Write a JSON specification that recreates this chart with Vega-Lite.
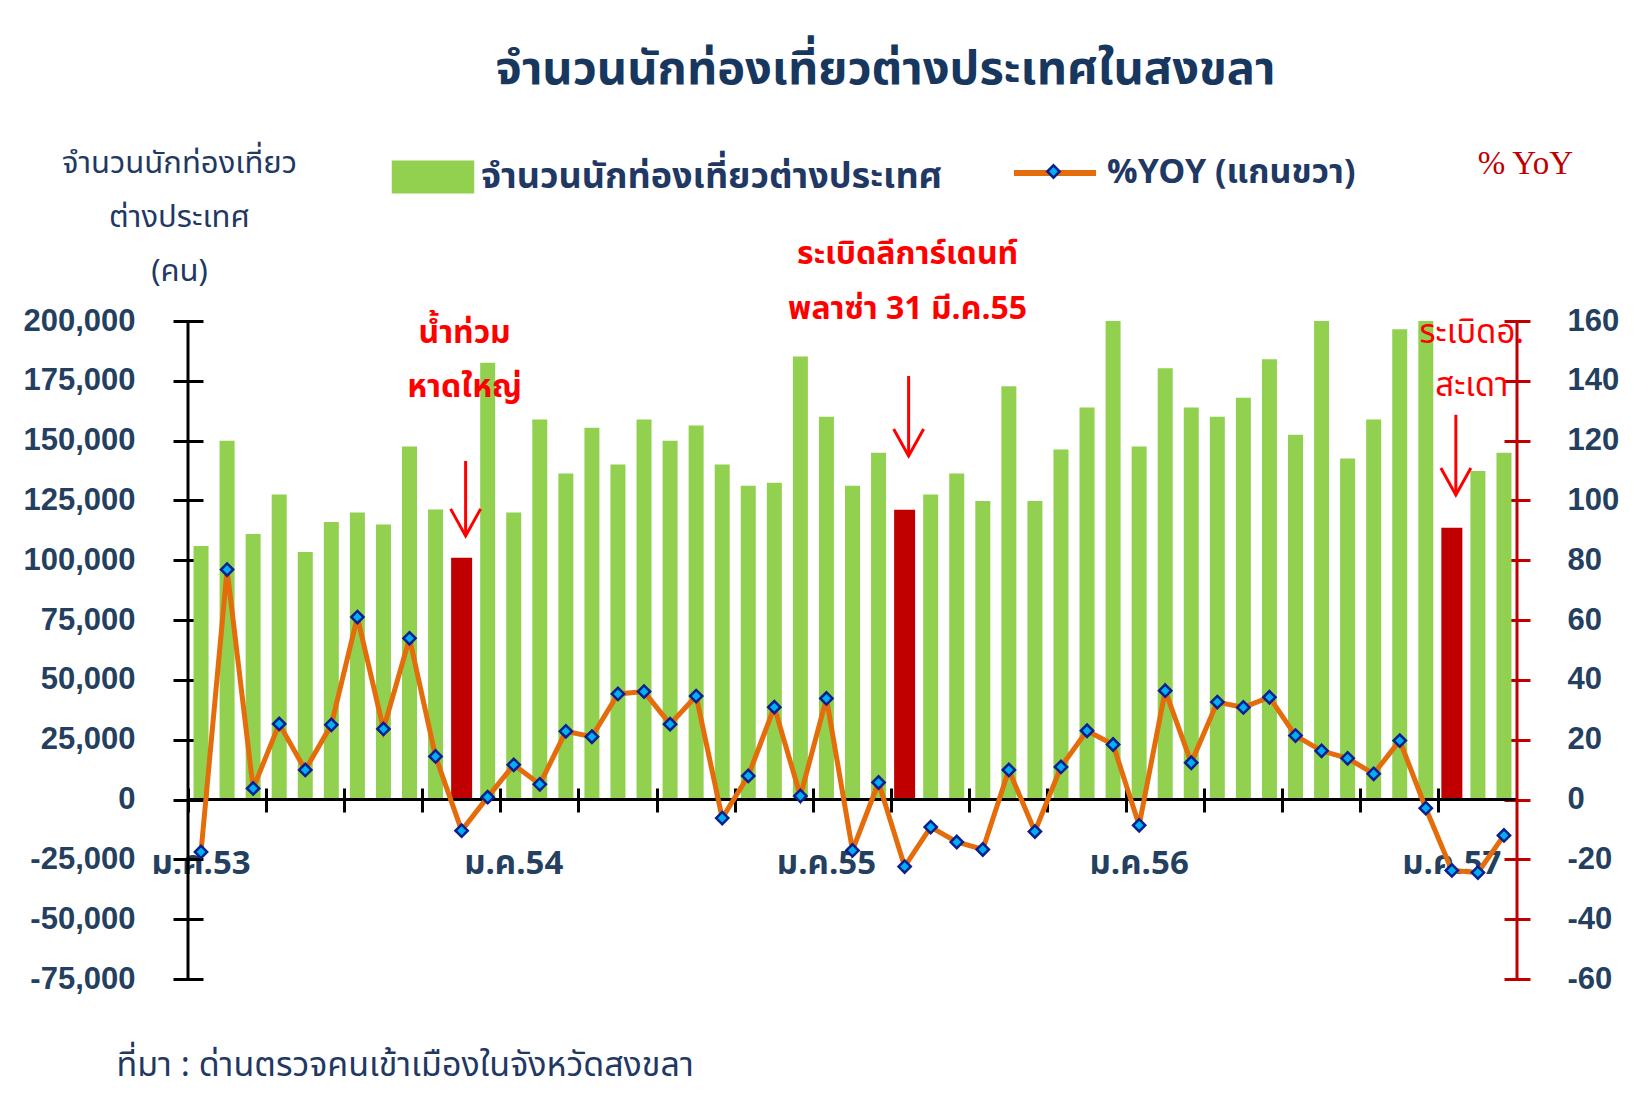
{
 "$schema": "https://vega.github.io/schema/vega-lite/v6.json",
 "width": 1329,
 "height": 658,
 "autosize": {"type": "none"},
 "padding": {"left": 188, "top": 321, "right": 131, "bottom": 137},
 "background": "#ffffff",
 "config": {
  "view": {"stroke": null},
  "locale": {"number": {"decimal": ".", "thousands": ",", "grouping": [3], "currency": ["$", ""], "minus": "-"}},
  "axis": {"grid": false}
 },
 "title": {
  "text": "จำนวนนักท่องเที่ยวต่างประเทศในสงขลา",
  "anchor": "middle",
  "frame": "group",
  "dx": 33,
  "offset": 35,
  "font": "Noto Sans Thai, Tahoma, Liberation Sans, sans-serif",
  "fontSize": 47,
  "fontWeight": "bold",
  "color": "#17375E"
 },
 "datasets": {
  "months": [
   {"month": "ม.ค.53", "tourists": 106000, "yoy": -17.5, "series": "จำนวนนักท่องเที่ยวต่างประเทศ"},
   {"month": "ก.พ.53", "tourists": 150000, "yoy": 76.9, "series": "จำนวนนักท่องเที่ยวต่างประเทศ"},
   {"month": "มี.ค.53", "tourists": 111000, "yoy": 3.7, "series": "จำนวนนักท่องเที่ยวต่างประเทศ"},
   {"month": "เม.ย.53", "tourists": 127500, "yoy": 25.3, "series": "จำนวนนักท่องเที่ยวต่างประเทศ"},
   {"month": "พ.ค.53", "tourists": 103500, "yoy": 9.9, "series": "จำนวนนักท่องเที่ยวต่างประเทศ"},
   {"month": "มิ.ย.53", "tourists": 116000, "yoy": 25.0, "series": "จำนวนนักท่องเที่ยวต่างประเทศ"},
   {"month": "ก.ค.53", "tourists": 120000, "yoy": 61.0, "series": "จำนวนนักท่องเที่ยวต่างประเทศ"},
   {"month": "ส.ค.53", "tourists": 115000, "yoy": 23.6, "series": "จำนวนนักท่องเที่ยวต่างประเทศ"},
   {"month": "ก.ย.53", "tourists": 147500, "yoy": 53.9, "series": "จำนวนนักท่องเที่ยวต่างประเทศ"},
   {"month": "ต.ค.53", "tourists": 121200, "yoy": 14.4, "series": "จำนวนนักท่องเที่ยวต่างประเทศ"},
   {"month": "พ.ย.53", "tourists": 101100, "yoy": -10.4, "series": "ช่วงเกิดเหตุ"},
   {"month": "ธ.ค.53", "tourists": 182600, "yoy": 0.8, "series": "จำนวนนักท่องเที่ยวต่างประเทศ"},
   {"month": "ม.ค.54", "tourists": 120000, "yoy": 11.6, "series": "จำนวนนักท่องเที่ยวต่างประเทศ"},
   {"month": "ก.พ.54", "tourists": 158800, "yoy": 5.1, "series": "จำนวนนักท่องเที่ยวต่างประเทศ"},
   {"month": "มี.ค.54", "tourists": 136300, "yoy": 22.8, "series": "จำนวนนักท่องเที่ยวต่างประเทศ"},
   {"month": "เม.ย.54", "tourists": 155400, "yoy": 21.0, "series": "จำนวนนักท่องเที่ยวต่างประเทศ"},
   {"month": "พ.ค.54", "tourists": 140000, "yoy": 35.3, "series": "จำนวนนักท่องเที่ยวต่างประเทศ"},
   {"month": "มิ.ย.54", "tourists": 158800, "yoy": 36.1, "series": "จำนวนนักท่องเที่ยวต่างประเทศ"},
   {"month": "ก.ค.54", "tourists": 150000, "yoy": 25.2, "series": "จำนวนนักท่องเที่ยวต่างประเทศ"},
   {"month": "ส.ค.54", "tourists": 156300, "yoy": 34.6, "series": "จำนวนนักท่องเที่ยวต่างประเทศ"},
   {"month": "ก.ย.54", "tourists": 140000, "yoy": -6.2, "series": "จำนวนนักท่องเที่ยวต่างประเทศ"},
   {"month": "ต.ค.54", "tourists": 131100, "yoy": 7.9, "series": "จำนวนนักท่องเที่ยวต่างประเทศ"},
   {"month": "พ.ย.54", "tourists": 132400, "yoy": 30.9, "series": "จำนวนนักท่องเที่ยวต่างประเทศ"},
   {"month": "ธ.ค.54", "tourists": 185200, "yoy": 1.2, "series": "จำนวนนักท่องเที่ยวต่างประเทศ"},
   {"month": "ม.ค.55", "tourists": 160000, "yoy": 33.8, "series": "จำนวนนักท่องเที่ยวต่างประเทศ"},
   {"month": "ก.พ.55", "tourists": 131100, "yoy": -17.0, "series": "จำนวนนักท่องเที่ยวต่างประเทศ"},
   {"month": "มี.ค.55", "tourists": 144900, "yoy": 5.7, "series": "จำนวนนักท่องเที่ยวต่างประเทศ"},
   {"month": "เม.ย.55", "tourists": 121100, "yoy": -22.4, "series": "ช่วงเกิดเหตุ"},
   {"month": "พ.ค.55", "tourists": 127500, "yoy": -9.2, "series": "จำนวนนักท่องเที่ยวต่างประเทศ"},
   {"month": "มิ.ย.55", "tourists": 136300, "yoy": -14.2, "series": "จำนวนนักท่องเที่ยวต่างประเทศ"},
   {"month": "ก.ค.55", "tourists": 124800, "yoy": -16.7, "series": "จำนวนนักท่องเที่ยวต่างประเทศ"},
   {"month": "ส.ค.55", "tourists": 172700, "yoy": 9.9, "series": "จำนวนนักท่องเที่ยวต่างประเทศ"},
   {"month": "ก.ย.55", "tourists": 124800, "yoy": -10.7, "series": "จำนวนนักท่องเที่ยวต่างประเทศ"},
   {"month": "ต.ค.55", "tourists": 146300, "yoy": 10.9, "series": "จำนวนนักท่องเที่ยวต่างประเทศ"},
   {"month": "พ.ย.55", "tourists": 163900, "yoy": 23.0, "series": "จำนวนนักท่องเที่ยวต่างประเทศ"},
   {"month": "ธ.ค.55", "tourists": 200000, "yoy": 18.4, "series": "จำนวนนักท่องเที่ยวต่างประเทศ"},
   {"month": "ม.ค.56", "tourists": 147500, "yoy": -8.6, "series": "จำนวนนักท่องเที่ยวต่างประเทศ"},
   {"month": "ก.พ.56", "tourists": 180300, "yoy": 36.4, "series": "จำนวนนักท่องเที่ยวต่างประเทศ"},
   {"month": "มี.ค.56", "tourists": 163900, "yoy": 12.3, "series": "จำนวนนักท่องเที่ยวต่างประเทศ"},
   {"month": "เม.ย.56", "tourists": 160000, "yoy": 32.6, "series": "จำนวนนักท่องเที่ยวต่างประเทศ"},
   {"month": "พ.ค.56", "tourists": 167900, "yoy": 30.8, "series": "จำนวนนักท่องเที่ยวต่างประเทศ"},
   {"month": "มิ.ย.56", "tourists": 184000, "yoy": 34.2, "series": "จำนวนนักท่องเที่ยวต่างประเทศ"},
   {"month": "ก.ค.56", "tourists": 152500, "yoy": 21.4, "series": "จำนวนนักท่องเที่ยวต่างประเทศ"},
   {"month": "ส.ค.56", "tourists": 200000, "yoy": 16.3, "series": "จำนวนนักท่องเที่ยวต่างประเทศ"},
   {"month": "ก.ย.56", "tourists": 142500, "yoy": 13.8, "series": "จำนวนนักท่องเที่ยวต่างประเทศ"},
   {"month": "ต.ค.56", "tourists": 158800, "yoy": 8.6, "series": "จำนวนนักท่องเที่ยวต่างประเทศ"},
   {"month": "พ.ย.56", "tourists": 196500, "yoy": 19.7, "series": "จำนวนนักท่องเที่ยวต่างประเทศ"},
   {"month": "ธ.ค.56", "tourists": 200000, "yoy": -2.9, "series": "จำนวนนักท่องเที่ยวต่างประเทศ"},
   {"month": "ม.ค.57", "tourists": 113600, "yoy": -23.7, "series": "ช่วงเกิดเหตุ"},
   {"month": "ก.พ.57", "tourists": 137300, "yoy": -24.4, "series": "จำนวนนักท่องเที่ยวต่างประเทศ"},
   {"month": "มี.ค.57", "tourists": 144900, "yoy": -12.0, "series": "จำนวนนักท่องเที่ยวต่างประเทศ"}
  ],
  "notes": [
   {"month": "พ.ย.53", "y": 195000, "text": "น้ำท่วม"},
   {"month": "พ.ย.53", "y": 172400, "text": "หาดใหญ่"},
   {"month": "เม.ย.55", "y": 228000, "text": "ระเบิดลีการ์เดนท์"},
   {"month": "เม.ย.55", "y": 205000, "text": "พลาซ่า 31 มี.ค.55"},
   {"month": "ม.ค.57", "y": 195000, "text": "ระเบิดอ."},
   {"month": "ม.ค.57", "y": 172900, "text": "สะเดา"}
  ],
  "arrows": [
   {"month": "พ.ย.53", "top": 141500, "tip": 110200},
   {"month": "เม.ย.55", "top": 177000, "tip": 143600},
   {"month": "ม.ค.57", "top": 160800, "tip": 127300}
  ]
 },
 "layer": [
  {
   "layer": [
    {
     "data": {"name": "months"},
     "transform": [{"filter": {"field": "series", "equal": "จำนวนนักท่องเที่ยวต่างประเทศ"}}],
     "mark": {"type": "bar", "width": 15},
     "encoding": {
      "x": {
       "field": "month", "type": "ordinal",
       "scale": {"domain": ["ม.ค.53","ก.พ.53","มี.ค.53","เม.ย.53","พ.ค.53","มิ.ย.53","ก.ค.53","ส.ค.53","ก.ย.53","ต.ค.53","พ.ย.53","ธ.ค.53","ม.ค.54","ก.พ.54","มี.ค.54","เม.ย.54","พ.ค.54","มิ.ย.54","ก.ค.54","ส.ค.54","ก.ย.54","ต.ค.54","พ.ย.54","ธ.ค.54","ม.ค.55","ก.พ.55","มี.ค.55","เม.ย.55","พ.ค.55","มิ.ย.55","ก.ค.55","ส.ค.55","ก.ย.55","ต.ค.55","พ.ย.55","ธ.ค.55","ม.ค.56","ก.พ.56","มี.ค.56","เม.ย.56","พ.ค.56","มิ.ย.56","ก.ค.56","ส.ค.56","ก.ย.56","ต.ค.56","พ.ย.56","ธ.ค.56","ม.ค.57","ก.พ.57","มี.ค.57"], "paddingInner": 0, "paddingOuter": 0},
       "axis": {
        "orient": "bottom", "offset": -191, "domain": false,
        "values": ["ม.ค.53","เม.ย.53","ก.ค.53","ต.ค.53","ม.ค.54","เม.ย.54","ก.ค.54","ต.ค.54","ม.ค.55","เม.ย.55","ก.ค.55","ต.ค.55","ม.ค.56","เม.ย.56","ก.ค.56","ต.ค.56","ม.ค.57"],
        "bandPosition": 0, "tickSize": 24, "tickWidth": 3, "tickColor": "#000000",
        "labelExpr": "indexof(datum.value, 'ม.ค.') === 0 ? datum.value : ''",
        "labelOffset": 0, "labelPadding": 51, "labelBaseline": "middle", "labelAngle": 0,
        "labelFont": "Noto Sans Thai, Tahoma, Liberation Sans, sans-serif", "labelFontSize": 33, "labelFontWeight": "bold", "labelColor": "#243F60",
        "labelOverlap": false, "labelBound": false, "labelFlush": false,
        "title": "ที่มา : ด่านตรวจคนเข้าเมืองในจังหวัดสงขลา",
        "titleX": -72, "titleY": 277, "titleAlign": "left", "titleBaseline": "middle",
        "titleFont": "Noto Sans Thai, Tahoma, Liberation Sans, sans-serif", "titleFontSize": 34, "titleFontWeight": "normal", "titleColor": "#1F3864"
       }
      },
      "y": {
       "field": "tourists", "type": "quantitative",
       "scale": {"domain": [-75000, 200000], "nice": false, "zero": false},
       "axis": {
        "orient": "left", "offset": -15, "domain": false,
        "values": [-75000, -50000, -25000, 0, 25000, 50000, 75000, 100000, 125000, 150000, 175000, 200000],
        "format": ",d", "tickSize": 30, "tickWidth": 3, "tickColor": "#000000",
        "labelFont": "Liberation Sans", "labelFontSize": 31, "labelFontWeight": "bold", "labelColor": "#243F60", "labelPadding": 38,
        "title": ["จำนวนนักท่องเที่ยว", "ต่างประเทศ", "(คน)"],
        "titleX": -24, "titleY": -158, "titleAngle": 0, "titleAlign": "center", "titleBaseline": "middle", "titleLineHeight": 54,
        "titleFont": "Noto Sans Thai, Tahoma, Liberation Sans, sans-serif", "titleFontSize": 31, "titleFontWeight": "normal", "titleColor": "#1F3864"
       }
      },
      "color": {
       "field": "series", "type": "nominal",
       "scale": {"domain": ["จำนวนนักท่องเที่ยวต่างประเทศ", "ช่วงเกิดเหตุ"], "range": ["#92D050", "#C00000"]},
       "legend": {
        "values": ["จำนวนนักท่องเที่ยวต่างประเทศ"], "orient": "none", "legendX": 227, "legendY": -162,
        "title": null, "padding": 0, "symbolType": "M-2.5,-1H2.5V1H-2.5Z", "symbolSize": 1089, "symbolStrokeWidth": 0, "symbolOpacity": 1,
        "labelOffset": 30, "labelFont": "Noto Sans Thai, Tahoma, Liberation Sans, sans-serif", "labelFontSize": 36, "labelFontWeight": "bold", "labelColor": "#1F3864", "labelLimit": 0
       }
      }
     }
    },
    {
     "data": {"name": "months"},
     "transform": [{"filter": {"field": "series", "equal": "ช่วงเกิดเหตุ"}}],
     "mark": {"type": "bar", "width": 21},
     "encoding": {
      "x": {"field": "month", "type": "ordinal"},
      "y": {"field": "tourists", "type": "quantitative"},
      "color": {"field": "series", "type": "nominal"}
     }
    },
    {
     "data": {"values": [{}]},
     "mark": {"type": "rule", "color": "#000000", "strokeWidth": 3},
     "encoding": {"y": {"datum": 0}}
    },
    {
     "data": {"values": [{"month": "ม.ค.53", "lo": -75000, "hi": 200000}]},
     "mark": {"type": "rule", "color": "#000000", "strokeWidth": 3},
     "encoding": {
      "x": {"field": "month", "type": "ordinal", "bandPosition": 0},
      "y": {"field": "lo", "type": "quantitative"},
      "y2": {"field": "hi"}
     }
    },
    {
     "data": {"values": [{"month": "มี.ค.57", "lo": -75000, "hi": 200000}]},
     "mark": {"type": "rule", "color": "#C00000", "strokeWidth": 3},
     "encoding": {
      "x": {"field": "month", "type": "ordinal", "bandPosition": 1},
      "y": {"field": "lo", "type": "quantitative"},
      "y2": {"field": "hi"}
     }
    },
    {
     "data": {"name": "arrows"},
     "mark": {"type": "rule", "color": "#FF0000", "strokeWidth": 3, "xOffset": 4},
     "encoding": {
      "x": {"field": "month", "type": "ordinal"},
      "y": {"field": "top", "type": "quantitative"},
      "y2": {"field": "tip"}
     }
    },
    {
     "data": {"name": "arrows"},
     "mark": {"type": "point", "shape": "M-1,-1.8L0,0L1,-1.8", "size": 900, "filled": false, "stroke": "#FF0000", "strokeWidth": 3, "opacity": 1, "xOffset": 4},
     "encoding": {
      "x": {"field": "month", "type": "ordinal"},
      "y": {"field": "tip", "type": "quantitative"}
     }
    },
    {
     "data": {"name": "notes"},
     "transform": [{"filter": "datum.month !== 'ม.ค.57'"}],
     "mark": {"type": "text", "color": "#FF0000", "font": "Noto Sans Thai, Tahoma, Liberation Sans, sans-serif", "fontSize": 32, "fontWeight": "bold", "align": "center", "baseline": "middle", "dx": 3},
     "encoding": {
      "x": {"field": "month", "type": "ordinal"},
      "y": {"field": "y", "type": "quantitative"},
      "text": {"field": "text"}
     }
    },
    {
     "data": {"name": "notes"},
     "transform": [{"filter": "datum.month === 'ม.ค.57'"}],
     "mark": {"type": "text", "color": "#FF0000", "font": "Noto Sans Thai, Tahoma, Liberation Sans, sans-serif", "fontSize": 33, "fontWeight": "normal", "align": "center", "baseline": "middle", "dx": 20},
     "encoding": {
      "x": {"field": "month", "type": "ordinal"},
      "y": {"field": "y", "type": "quantitative"},
      "text": {"field": "text"}
     }
    }
   ]
  },
  {
   "data": {"name": "months"},
   "layer": [
    {
     "mark": {"type": "line", "strokeWidth": 5},
     "encoding": {
      "x": {"field": "month", "type": "ordinal"},
      "y": {
       "field": "yoy", "type": "quantitative",
       "scale": {"domain": [-60, 160], "nice": false, "zero": false},
       "axis": {
        "orient": "right", "offset": -13, "domain": false,
        "values": [-60, -40, -20, 0, 20, 40, 60, 80, 100, 120, 140, 160],
        "tickSize": 26, "tickWidth": 3, "tickColor": "#C00000",
        "labelFont": "Liberation Sans", "labelFontSize": 31, "labelFontWeight": "bold", "labelColor": "#243F60", "labelPadding": 37,
        "title": "% YoY", "titleX": 21, "titleY": -158, "titleAngle": 0, "titleAlign": "center", "titleBaseline": "middle",
        "titleFont": "Liberation Serif", "titleFontSize": 33, "titleFontWeight": "normal", "titleColor": "#C00000"
       }
      },
      "stroke": {
       "datum": "%YOY (แกนขวา)",
       "scale": {"range": ["#E46C0A"]},
       "legend": {
        "orient": "none", "legendX": 823, "legendY": -192, "title": null, "padding": 0,
        "symbolType": "stroke", "symbolSize": 6724, "symbolStrokeWidth": 6,
        "labelOffset": 8, "labelFont": "Noto Sans Thai, Tahoma, Liberation Sans, sans-serif", "labelFontSize": 34, "labelFontWeight": "bold", "labelColor": "#1F3864", "labelLimit": 0
       }
      }
     }
    },
    {
     "mark": {"type": "point", "shape": "diamond", "filled": true, "size": 150, "stroke": "#0A1F8F", "strokeWidth": 2.5, "opacity": 1},
     "encoding": {
      "x": {"field": "month", "type": "ordinal"},
      "y": {"field": "yoy", "type": "quantitative"},
      "fill": {
       "datum": "marker",
       "scale": {"range": ["#00B0F0"]},
       "legend": {
        "orient": "none", "legendX": 858, "legendY": -157, "title": null, "padding": 0,
        "symbolType": "diamond", "symbolSize": 150, "symbolStrokeColor": "#0A1F8F", "symbolStrokeWidth": 2.5,
        "labelExpr": "''"
       }
      }
     }
    }
   ]
  }
 ],
 "resolve": {"scale": {"y": "independent"}, "axis": {"y": "independent"}}
}
